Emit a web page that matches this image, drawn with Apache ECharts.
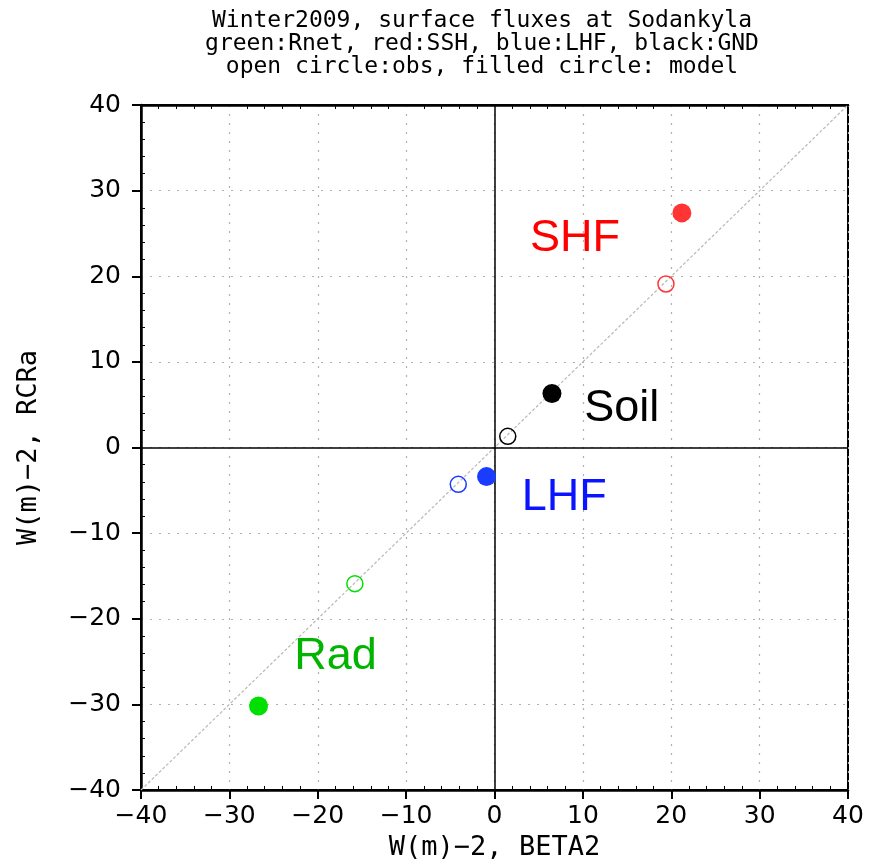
<!DOCTYPE html>
<html>
<head>
<meta charset="utf-8">
<script src="https://cdn.jsdelivr.net/npm/echarts@6/dist/echarts.min.js"></script>
<style>
  html, body { margin: 0; padding: 0; background: #fff; }
  #chart { width: 869px; height: 866px; }
</style>
</head>
<body>
<div id="chart"></div>
<script>
// Winter 2009 surface fluxes at Sodankyla: observed vs. modelled (W m-2)
const titleLines = [
  'Winter2009, surface fluxes at Sodankyla',
  'green:Rnet, red:SSH, blue:LHF, black:GND',
  'open circle:obs, filled circle: model'
];
const fluxNames = ['Rad', 'LHF', 'SHF', 'Soil'];
const fluxColors = ['#00e000', '#1a3cff', '#ff3535', '#000000'];
const textColors = ['#00b400', '#0a14ff', '#ff0000', '#000000'];
const obsX   = [-15.8, -4.1, 19.4, 1.5];
const obsY   = [-15.9, -4.3, 19.1, 1.3];
const modelX = [-26.7, -0.9, 21.2, 6.5];
const modelY = [-30.2, -3.4, 27.4, 6.3];
const axisTicks = [-40, -30, -20, -10, 0, 10, 20, 30, 40];
const xAxisName = 'W(m)\u22122, BETA2';
const yAxisName = 'W(m)\u22122, RCRa';

// where each flux name is written, in data units
const nameAnchors = [[-18.0, -24.4], [7.9, -5.9], [9.1, 24.4], [14.4, 4.6]];

const lo = axisTicks[0], hi = axisTicks[axisTicks.length - 1];
const step = axisTicks[1] - axisTicks[0];
const fmt = v => (v < 0 ? '\u2212' + Math.abs(v) : String(v));
const tickFont = { fontFamily: 'DejaVu Sans', fontSize: 25, color: '#000' };
const nameFont = { fontFamily: 'DejaVu Sans Mono', fontSize: 27, color: '#000' };
const dotted = { color: '#b0b0b0', width: 1.2, type: [2, 7] };

const series = [];

// 1:1 reference line plus the zero axes
series.push({
  type: 'line', xAxisIndex: 0, yAxisIndex: 0, symbol: 'none', silent: true,
  data: [[lo, lo], [hi, hi]],
  lineStyle: { color: '#b8b8b8', width: 1.2, type: [3, 2] },
  markLine: {
    silent: true, symbol: 'none', label: { show: false },
    lineStyle: { color: '#000', width: 1.5, type: 'solid' },
    data: [{ xAxis: 0 }, { yAxis: 0 }]
  },
  z: 2
});

fluxNames.forEach((name, i) => {
  series.push({
    name: name + ' obs', type: 'scatter', symbol: 'circle', symbolSize: 16,
    data: [[obsX[i], obsY[i]]],
    itemStyle: { color: 'rgba(0,0,0,0)', borderColor: fluxColors[i], borderWidth: 1.5, opacity: 1 },
    z: 5
  });
  series.push({
    name: name + ' model', type: 'scatter', symbol: 'circle', symbolSize: 19,
    data: [[modelX[i], modelY[i]]],
    itemStyle: { color: fluxColors[i], opacity: 1 },
    z: 6
  });
  series.push({
    name: name, type: 'scatter', symbolSize: 0, silent: true,
    data: [nameAnchors[i]],
    itemStyle: { opacity: 1 },
    label: {
      show: true, position: 'inside', formatter: name,
      fontFamily: 'Liberation Sans', fontSize: 45, color: textColors[i]
    },
    z: 7
  });
});

const chart = echarts.init(document.getElementById('chart'), null, { renderer: 'canvas' });
chart.setOption({
  animation: false,
  backgroundColor: '#fff',
  title: {
    text: titleLines.join('\n'),
    left: 477, top: 5, textAlign: 'center',
    textStyle: { fontFamily: 'DejaVu Sans Mono', fontSize: 23, fontWeight: 'normal', color: '#000', lineHeight: 23 }
  },
  grid: { left: 141, right: 21, top: 105, bottom: 73, show: true, borderColor: '#000', borderWidth: 2 },
  xAxis: [{
    type: 'value', min: lo, max: hi, interval: step, position: 'bottom',
    name: xAxisName, nameLocation: 'middle', nameGap: 44, nameTextStyle: nameFont,
    axisLine: { onZero: false, lineStyle: { color: '#000', width: 2.5 } },
    axisTick: { show: true, length: 9, lineStyle: { color: '#000', width: 2 } },
    minorTick: { show: true, splitNumber: 5, length: -4, lineStyle: { color: '#000', width: 1 } },
    axisLabel: Object.assign({ margin: 14, formatter: fmt }, tickFont),
    splitLine: { show: true, lineStyle: dotted }
  }, {
    type: 'value', min: lo, max: hi, interval: step, position: 'top',
    axisLine: { onZero: false, lineStyle: { color: '#000', width: 2.5 } },
    axisTick: { show: false },
    minorTick: { show: true, splitNumber: 5, length: -4, lineStyle: { color: '#000', width: 1 } },
    axisLabel: { show: false }, splitLine: { show: false }
  }],
  yAxis: [{
    type: 'value', min: lo, max: hi, interval: step, position: 'left',
    name: yAxisName, nameLocation: 'middle', nameGap: 99, nameRotate: 90, nameTextStyle: nameFont,
    axisLine: { onZero: false, lineStyle: { color: '#000', width: 2.5 } },
    axisTick: { show: true, length: 9, lineStyle: { color: '#000', width: 2 } },
    minorTick: { show: true, splitNumber: 5, length: -4, lineStyle: { color: '#000', width: 1 } },
    axisLabel: Object.assign({ margin: 20, formatter: fmt }, tickFont),
    splitLine: { show: true, lineStyle: dotted }
  }],
  series: series
});
</script>
</body>
</html>
